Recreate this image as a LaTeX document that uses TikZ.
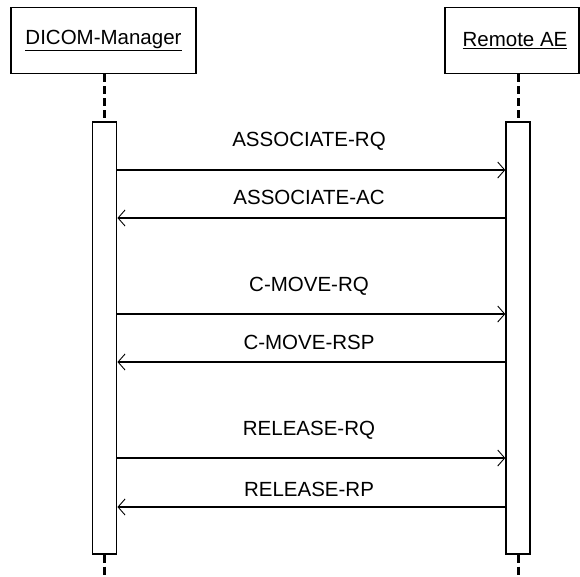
\documentclass[tikz,border=0pt]{standalone}
\usepackage{fontspec}
\setmainfont{Liberation Sans}
\usetikzlibrary{arrows.meta}
\begin{document}
\begin{tikzpicture}[x=1pt,y=-1pt,
  objbox/.style={draw,line width=1.4pt,inner sep=0pt},
  actbar/.style={draw,line width=1.4pt,fill=white,inner sep=0pt},
  life/.style={line width=3pt,dash pattern=on 8pt off 4pt},
  msg/.style={line width=1.3pt,-{Straight Barb[length=7pt,width=16pt,line width=0.9pt]}},
  lbl/.style={font=\fontsize{20.5}{24}\selectfont,inner sep=0pt,anchor=center}]
\useasboundingbox (0,0) rectangle (580,576);
% object boxes
\node[objbox,minimum width=185pt,minimum height=66pt] (dm) at (103.5,40.5) {};
\node[lbl] at (dm.center) {\underline{DICOM-Manager}};
\node[objbox,minimum width=134pt,minimum height=66pt] (ae) at (512,40.5) {};
\node[lbl] at (515,40.5) {\underline{Remote AE}};
% activation bars
\node[actbar,minimum width=24.5pt,minimum height=432pt] (ba) at (104.5,338) {};
\node[actbar,minimum width=24pt,minimum height=432pt] (bb) at (518,338) {};
% lifelines
\coordinate (dmend) at (104.5,576);
\coordinate (aeend) at (518,576);
\draw[life] (dm.south -| ba.north) -- (ba.north);
\draw[life] (ba.south) -- (dmend);
\draw[life] (ae.south -| bb.north) -- (bb.north);
\draw[life] (bb.south) -- (aeend);
% messages
\foreach \y/\ly/\t/\dir in {170/141/ASSOCIATE-RQ/r, 218/197/ASSOCIATE-AC/l, 314/286/C-MOVE-RQ/r, 362/342/C-MOVE-RSP/l, 458/430/RELEASE-RQ/r, 507/489/RELEASE-RP/l}{
  \coordinate (L) at (ba.east |- {(0,\y)});
  \coordinate (R) at (bb.west |- {(0,\y)});
  \if\dir r
    \draw[msg] (L) -- (R);
  \else
    \draw[msg] (R) -- (L);
  \fi
  \node[lbl] at (309,\ly) {\t};
}
\end{tikzpicture}
\end{document}
